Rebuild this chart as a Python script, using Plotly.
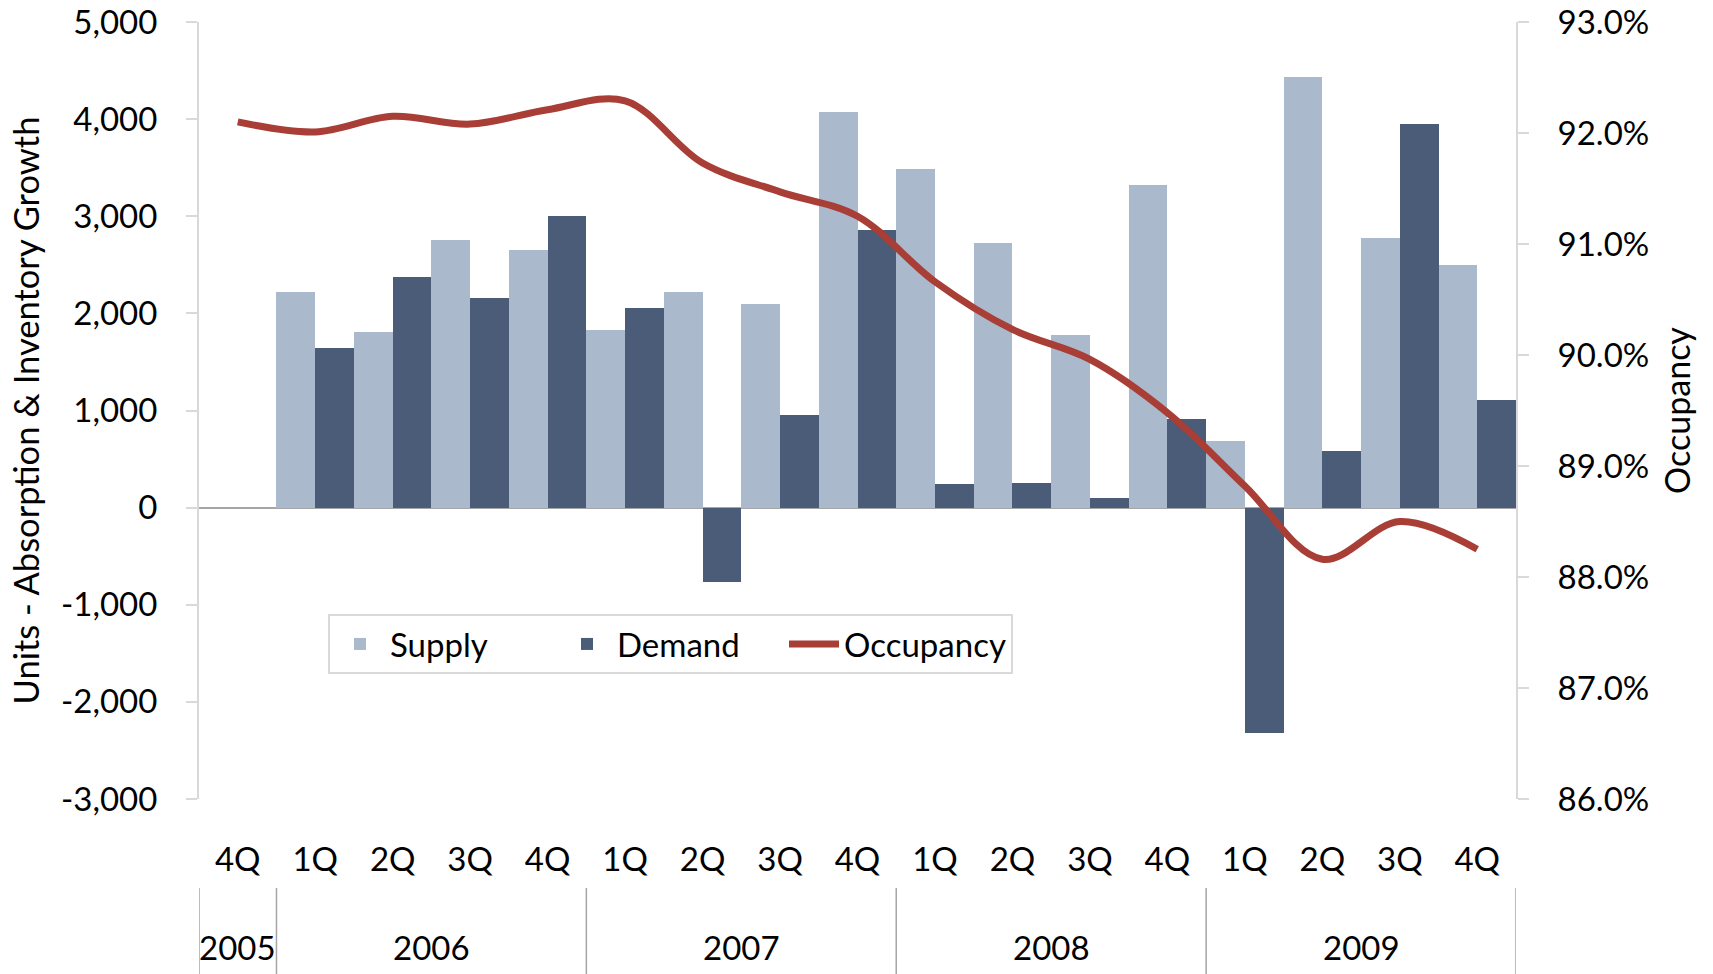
import plotly.graph_objects as go

# ---- data ----
quarters = ["4Q", "1Q", "2Q", "3Q", "4Q", "1Q", "2Q", "3Q", "4Q",
            "1Q", "2Q", "3Q", "4Q", "1Q", "2Q", "3Q", "4Q"]
years = ["2005", "2006", "2006", "2006", "2006", "2007", "2007", "2007", "2007",
         "2008", "2008", "2008", "2008", "2009", "2009", "2009", "2009"]
supply = [None, 2220, 1810, 2760, 2650, 1830, 2220, 2100, 4075,
          3485, 2720, 1780, 3325, 690, 4430, 2775, 2500]
demand = [None, 1640, 2370, 2160, 3000, 2060, -765, 955, 2855,
          245, 255, 100, 915, -2320, 585, 3945, 1110]
occupancy = [0.9210, 0.9201, 0.9215, 0.9208, 0.9221, 0.9229, 0.9173, 0.9147, 0.9125,
             0.9066, 0.9023, 0.8996, 0.8948, 0.8882, 0.8816, 0.8850, 0.8825]
left_ticks = [-3000, -2000, -1000, 0, 1000, 2000, 3000, 4000, 5000]
right_ticks = [0.86, 0.87, 0.88, 0.89, 0.90, 0.91, 0.92, 0.93]

SUPPLY_COLOR = "#AAB9CB"
DEMAND_COLOR = "#4A5C77"
LINE_COLOR = "#A83E36"
AXIS_GRAY = "#D9D9D9"
FONT = "Lato"
FS = 33

idx = list(range(len(quarters)))

fig = go.Figure()
fig.add_trace(go.Bar(x=idx, y=supply, name="Supply",
                     marker=dict(color=SUPPLY_COLOR, line=dict(width=0))))
fig.add_trace(go.Bar(x=idx, y=demand, name="Demand",
                     marker=dict(color=DEMAND_COLOR, line=dict(width=0))))
fig.add_trace(go.Scatter(x=idx, y=occupancy, name="Occupancy", yaxis="y2",
                         mode="lines",
                         line=dict(color=LINE_COLOR, width=7, shape="spline", smoothing=1)))

# year group labels and dividers
groups = []
start = 0
for i in range(1, len(years) + 1):
    if i == len(years) or years[i] != years[start]:
        groups.append((years[start], start, i - 1))
        start = i

plot_top, plot_bottom = 22, 799
ph = plot_bottom - plot_top
def py(pix):
    return (plot_bottom - pix) / ph

annotations = []
shapes = []
for name, a, b in groups:
    annotations.append(dict(x=(a + b) / 2, y=py(947), xref="x", yref="paper",
                            text=name, showarrow=False, yanchor="middle",
                            font=dict(family=FONT, size=FS, color="black")))
bounds = [groups[0][1] - 0.5] + [g[2] + 0.5 for g in groups]
for bx in bounds:
    shapes.append(dict(type="line", xref="x", yref="paper", x0=bx, x1=bx,
                       y0=py(888), y1=py(974),
                       line=dict(color="#A6A6A6", width=1.5)))

fig.update_layout(
    width=1713, height=974,
    margin=dict(l=199, r=197, t=22, b=175, pad=0, autoexpand=False),
    paper_bgcolor="white", plot_bgcolor="white",
    font=dict(family=FONT, size=FS, color="black"),
    barmode="group", bargap=0, bargroupgap=0,
    showlegend=True,
    legend=dict(orientation="h", x=(328 - 199) / 1317, y=py(614),
                xanchor="left", yanchor="top",
                bgcolor="white", bordercolor=AXIS_GRAY, borderwidth=2,
                font=dict(family=FONT, size=FS, color="black"),
                itemwidth=50, entrywidth=162),
    xaxis=dict(tickmode="array", tickvals=idx, ticktext=quarters,
               range=[-0.5, len(idx) - 0.5], showgrid=False, zeroline=False,
               showline=False, ticks="", ticklabelstandoff=38, automargin=False,
               ticklabeloverflow="allow",
               tickfont=dict(family=FONT, size=FS, color="black"), fixedrange=True),
    yaxis=dict(range=[-3000, 5000], tickmode="array", tickvals=left_ticks,
               ticktext=[f"{v:,}" for v in left_ticks],
               showgrid=False, zeroline=True, zerolinecolor="#A6A6A6", zerolinewidth=2,
               showline=True, linecolor=AXIS_GRAY, linewidth=2,
               ticks="outside", ticklen=11, tickcolor=AXIS_GRAY, tickwidth=2,
               ticklabelstandoff=22, automargin=False, ticklabeloverflow="allow",
               tickfont=dict(family=FONT, size=FS, color="black"),
               title=dict(text="Units - Absorption & Inventory Growth",
                          font=dict(family=FONT, size=34.5, color="black"), standoff=11)),
    yaxis2=dict(overlaying="y", side="right", range=[0.86, 0.93], tickmode="array",
                tickvals=right_ticks, ticktext=[f"{v*100:.1f}%" for v in right_ticks],
                showgrid=False, zeroline=False,
                showline=True, linecolor=AXIS_GRAY, linewidth=2,
                ticks="outside", ticklen=11, tickcolor=AXIS_GRAY, tickwidth=2,
                ticklabelstandoff=22, automargin=False, ticklabeloverflow="allow",
                tickfont=dict(family=FONT, size=FS, color="black"),
                title=dict(text="Occupancy",
                           font=dict(family=FONT, size=34, color="black"), standoff=18)),
    annotations=annotations,
    shapes=shapes,
)

fig.write_html("out.html", config={"displayModeBar": False},
               post_script="document.body.style.margin='0';document.body.style.overflow='hidden';")
